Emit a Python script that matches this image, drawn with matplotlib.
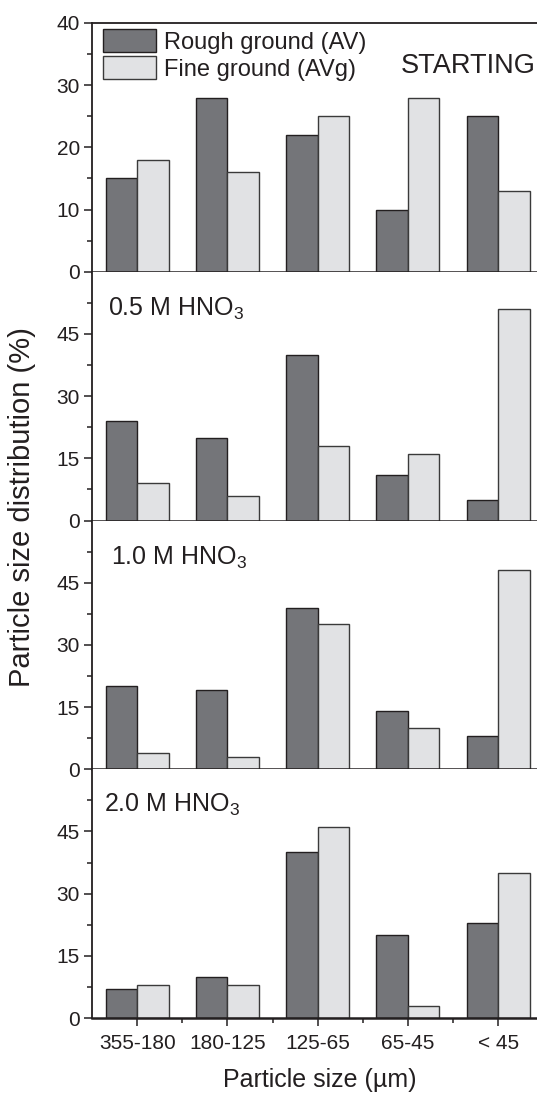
import numpy as np
import matplotlib
matplotlib.use("Agg")
import matplotlib.pyplot as plt
from matplotlib.ticker import MultipleLocator, FixedLocator

plt.rcParams['font.family'] = ['Liberation Sans', 'DejaVu Sans']
plt.rcParams['mathtext.fontset'] = 'custom'
plt.rcParams['mathtext.rm'] = 'Liberation Sans'

sizes = ["355-180", "180-125", "125-65", "65-45", "< 45"]
panels = ["STARTING", "0.5 M HNO$_\\mathregular{3}$", "1.0 M HNO$_\\mathregular{3}$", "2.0 M HNO$_\\mathregular{3}$"]

rough_start = [15, 28, 22, 10, 25]
fine_start = [18, 16, 25, 28, 13]
rough_05 = [24, 20, 40, 11, 5]
fine_05 = [9, 6, 18, 16, 51]
rough_10 = [20, 19, 39, 14, 8]
fine_10 = [4, 3, 35, 10, 48]
rough_20 = [7, 10, 40, 20, 23]
fine_20 = [8, 8, 46, 3, 35]

rough = [rough_start, rough_05, rough_10, rough_20]
fine = [fine_start, fine_05, fine_10, fine_20]

ink = '#231f20'
dark = '#747579'
light = '#e1e2e4'

W, H = 537, 1097
fig = plt.figure(figsize=(W / 100, H / 100), dpi=100)

left_px = 92
step_px = 90.25
left = left_px / W
width = 1 - left
top = 23
ph = (1018 - top) / 4
x = np.arange(len(sizes))
bw = 0.35

# label positions (axes fraction) and sizes per panel
label_pos = [((401 - left_px) / (W - left_px), 0.80),
             (0.036, 0.823), (0.043, 0.823), (0.028, 0.827)]
label_size = [19.5, 18, 18, 18]

for i in range(4):
    bottom = 1 - (top + ph * (i + 1)) / H
    ax = fig.add_axes([left, bottom, width, ph / H])
    ax.bar(x - bw / 2, rough[i], bw, color=dark, edgecolor=ink, linewidth=1,
           label='Rough ground (AV)', zorder=2)
    ax.bar(x + bw / 2, fine[i], bw, color=light, edgecolor='#3a3a3a', linewidth=1,
           label='Fine ground (AVg)', zorder=2)
    ax.set_xlim(-0.5, -0.5 + (W - left_px) / step_px)
    if i == 0:
        ax.set_ylim(0, 40)
        ax.yaxis.set_major_locator(FixedLocator([0, 10, 20, 30, 40]))
        ax.yaxis.set_minor_locator(MultipleLocator(5))
    else:
        ax.set_ylim(0, 60)
        ax.yaxis.set_major_locator(FixedLocator([0, 15, 30, 45]))
        ax.yaxis.set_minor_locator(FixedLocator([7.5, 22.5, 37.5, 52.5]))
        ax.spines['top'].set_visible(False)
    ax.spines['right'].set_visible(False)
    for s in ['left', 'bottom', 'top']:
        ax.spines[s].set_linewidth(1.3)
        ax.spines[s].set_color(ink)
    ax.spines['bottom'].set_linewidth(1.8)
    ax.set_xticks(x)
    ax.xaxis.set_minor_locator(FixedLocator(x[:-1] + 0.5))
    ax.tick_params(which='major', direction='out', length=5.8, width=1.1, color=ink,
                   labelsize=15, labelcolor=ink, pad=3)
    ax.tick_params(which='minor', direction='out', length=3.5, width=1.1, color=ink)
    ax.tick_params(axis='x', which='both', top=False)
    ax.tick_params(axis='y', which='both', right=False)
    if i == 3:
        ax.set_xticklabels(sizes)
        ax.tick_params(axis='x', pad=6)
    else:
        ax.set_xticklabels([])

    ax.text(label_pos[i][0], label_pos[i][1], panels[i], fontsize=label_size[i],
            color=ink, va='baseline', ha='left', transform=ax.transAxes, clip_on=False)
    if i == 0:
        ax.legend(loc='upper left', bbox_to_anchor=(0.024, 0.975), frameon=False,
                  fontsize=17, handlelength=2.25, handleheight=1.1, handletextpad=0.34,
                  labelspacing=0.12, borderpad=0, borderaxespad=0, labelcolor=ink)

fig.text(22 / W, 1 - 507 / H, 'Particle size distribution (%)', rotation=90,
         fontsize=21, color=ink, ha='center', va='center')
fig.text(320 / W, 1 - 1080 / H, 'Particle size (\u00b5m)', fontsize=18, color=ink,
         ha='center', va='center')

fig.savefig('out.png', dpi=100)
